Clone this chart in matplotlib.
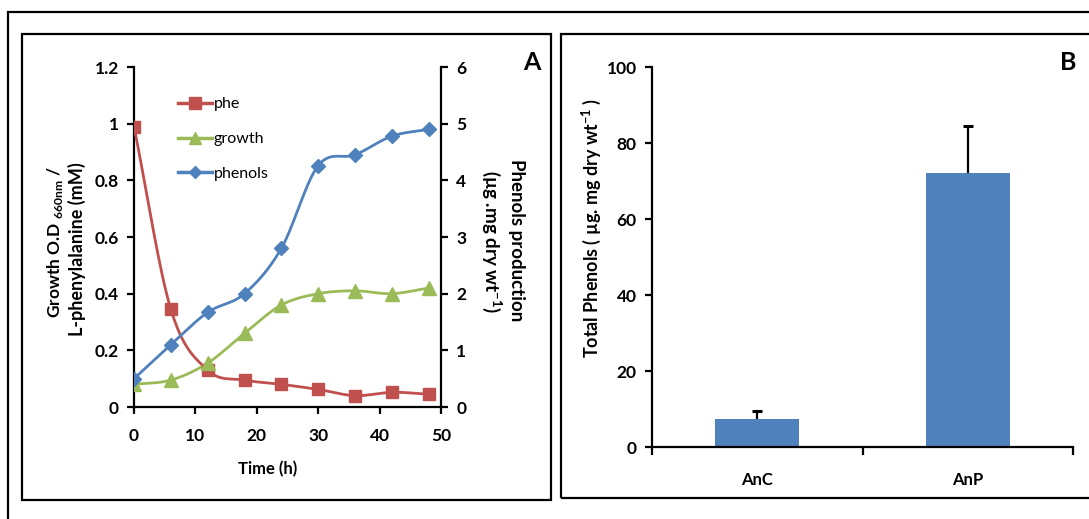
import numpy as np
import matplotlib
matplotlib.use("Agg")
import matplotlib.pyplot as plt
from matplotlib.patches import Rectangle
from matplotlib.lines import Line2D

plt.rcParams['font.family'] = ['Lato', 'DejaVu Sans']
plt.rcParams['mathtext.fontset'] = 'custom'
plt.rcParams['mathtext.rm'] = 'Lato'
plt.rcParams['mathtext.bf'] = 'Lato:bold'

# ---- data ----
time_h = [0, 6, 12, 18, 24, 30, 36, 42, 48]
phe = [0.99, 0.345, 0.13, 0.095, 0.08, 0.062, 0.04, 0.052, 0.045]
growth = [0.08, 0.095, 0.155, 0.26, 0.36, 0.40, 0.41, 0.40, 0.42]
phenols = [0.5, 1.1, 1.67, 2.0, 2.8, 4.26, 4.45, 4.78, 4.9]

groups = ["AnC", "AnP"]
total_phenols = [7.5, 72.0]
total_err = [2.0, 12.5]

RED = "#C0504D"
GREEN = "#9BBB59"
BLUE = "#4F81BD"

W, H = 1089, 519
fig = plt.figure(figsize=(W / 100, H / 100), dpi=100)


def fx(px):
    return px / W


def fy(py):
    return 1 - py / H


def smooth(x, y, n=30):
    x = np.asarray(x, float)
    y = np.asarray(y, float)
    P = np.column_stack([x, y])
    P = np.vstack([2 * P[0] - P[1], P, 2 * P[-1] - P[-2]])
    out = []
    t = np.linspace(0, 1, n)[:, None]
    for i in range(1, len(P) - 2):
        p0, p1, p2, p3 = P[i - 1], P[i], P[i + 1], P[i + 2]
        c1 = p1 + (p2 - p0) / 6
        c2 = p2 - (p3 - p1) / 6
        seg = ((1 - t) ** 3) * p1 + 3 * ((1 - t) ** 2) * t * c1 + 3 * (1 - t) * t ** 2 * c2 + t ** 3 * p2
        out.append(seg if i == 1 else seg[1:])
    out = np.vstack(out)
    return out[:, 0], out[:, 1]


# frames
lw_frame = 1.6
fig.patches.append(Rectangle((fx(8), fy(540)), fx(1100) - fx(8), fy(12) - fy(540),
                             transform=fig.transFigure, fill=False, lw=lw_frame, ec='black'))
fig.patches.append(Rectangle((fx(22), fy(500)), fx(551) - fx(22), fy(34) - fy(500),
                             transform=fig.transFigure, fill=False, lw=lw_frame, ec='black'))
fig.patches.append(Rectangle((fx(561), fy(498)), fx(1100) - fx(561), fy(34) - fy(498),
                             transform=fig.transFigure, fill=False, lw=lw_frame, ec='black'))

tick_fs = 12.5
lab_fs = 12.5

# ---- Panel A ----
axA = fig.add_axes([fx(134), fy(407), fx(441) - fx(134), fy(67) - fy(407)])
axA.patch.set_alpha(0)
axA2 = axA.twinx()

sx, sy = smooth(time_h, phe)
axA.plot(sx, sy, color=RED, lw=2, zorder=3)
axA.plot(time_h, phe, ls='none', marker='s', ms=9, color=RED, zorder=4)
sx, sy = smooth(time_h, growth)
axA.plot(sx, sy, color=GREEN, lw=2, zorder=3)
axA.plot(time_h, growth, ls='none', marker='^', ms=9.5, color=GREEN, zorder=4)
sx, sy = smooth(time_h, phenols)
axA2.plot(sx, sy, color=BLUE, lw=2, zorder=3)
axA2.plot(time_h, phenols, ls='none', marker='D', ms=7.5, color=BLUE, zorder=4)

axA.set_xlim(0, 50)
axA.set_ylim(0, 1.2)
axA2.set_ylim(0, 6)
axA.set_xticks([0, 10, 20, 30, 40, 50])
axA.set_yticks([0, 0.2, 0.4, 0.6, 0.8, 1.0, 1.2])
axA.set_yticklabels(['0', '0.2', '0.4', '0.6', '0.8', '1', '1.2'])
axA2.set_yticks([0, 1, 2, 3, 4, 5, 6])

for ax in (axA, axA2):
    for s in ax.spines.values():
        s.set_linewidth(1.6)
    ax.spines['top'].set_visible(False)
    ax.tick_params(width=1.6, length=5, labelsize=tick_fs, direction='out', pad=6)
axA.tick_params(axis='x', pad=10)
axA.spines['right'].set_visible(False)
axA2.spines['left'].set_visible(False)
axA2.spines['bottom'].set_visible(False)
for lbl in axA.get_xticklabels() + axA.get_yticklabels() + axA2.get_yticklabels():
    lbl.set_fontweight('bold')

fig.text(fx(268), fy(469), 'Time (h)', ha='center', va='center', fontsize=12, fontweight='bold')
fig.text(fx(55), fy(242), r'Growth O.D $_{\mathbf{660nm}}$ /', rotation=90, ha='center', va='center',
         fontsize=lab_fs, fontweight='bold')
fig.text(fx(77), fy(249), 'L-phenylalanine (mM)', rotation=90, ha='center', va='center',
         fontsize=13, fontweight='bold')
fig.text(fx(517), fy(240), 'Phenols production', rotation=270, ha='center', va='center',
         fontsize=13.5, fontweight='bold')
fig.text(fx(492), fy(242), r'(µg .mg dry wt$^{\mathbf{-1}}$)', rotation=270, ha='center', va='center',
         fontsize=13.5, fontweight='bold')
fig.text(fx(532), fy(62), 'A', ha='center', va='center', fontsize=18, fontweight='bold')

handles = [
    Line2D([], [], color=RED, lw=2.5, marker='s', ms=8),
    Line2D([], [], color=GREEN, lw=2.5, marker='^', ms=8),
    Line2D([], [], color=BLUE, lw=2.5, marker='D', ms=6),
]
leg = fig.legend(handles, ['phe', 'growth', 'phenols'], loc='upper left',
                 bbox_to_anchor=(fx(178), fy(97)), bbox_transform=fig.transFigure,
                 frameon=False, fontsize=11.5, borderpad=0, borderaxespad=0,
                 handlelength=2.1, handletextpad=0.15, labelspacing=1.3)

# ---- Panel B ----
axB = fig.add_axes([fx(652), fy(447), fx(1073) - fx(652), fy(67) - fy(447)])
axB.patch.set_alpha(0)
xpos = np.arange(len(groups))
tops = np.array(total_phenols) + np.array(total_err)
axB.bar(xpos, total_phenols, width=0.4, color=BLUE, zorder=2)
axB.vlines(xpos, total_phenols, tops, color='black', lw=1.6, zorder=3)
axB.plot(xpos, tops, ls='none', marker='_', ms=7, mew=2.2, color='black', zorder=3)
axB.set_xlim(-0.5, 1.5)
axB.set_ylim(0, 100)
axB.set_yticks([0, 20, 40, 60, 80, 100])
axB.set_xticks([-0.5, 0.5, 1.5])
axB.set_xticklabels([])
axB.set_xticks(xpos, minor=True)
axB.set_xticklabels(groups, minor=True)
axB.tick_params(axis='x', which='minor', length=0, labelsize=12, pad=18)
axB.tick_params(axis='x', which='major', width=1.6, length=6, direction='out')
axB.tick_params(axis='y', width=1.6, length=5, labelsize=tick_fs, direction='out', pad=6)
for s in axB.spines.values():
    s.set_linewidth(1.6)
axB.spines['top'].set_visible(False)
axB.spines['right'].set_visible(False)
for lbl in axB.get_yticklabels() + axB.get_xticklabels(minor=True):
    lbl.set_fontweight('bold')
fig.text(fx(591), fy(228), r'Total Phenols ( µg. mg dry wt$^{\mathbf{-1}}$ )', rotation=90,
         ha='center', va='center', fontsize=13, fontweight='bold')
fig.text(fx(1068), fy(62), 'B', ha='center', va='center', fontsize=18, fontweight='bold')

fig.savefig('out.png', dpi=100)
